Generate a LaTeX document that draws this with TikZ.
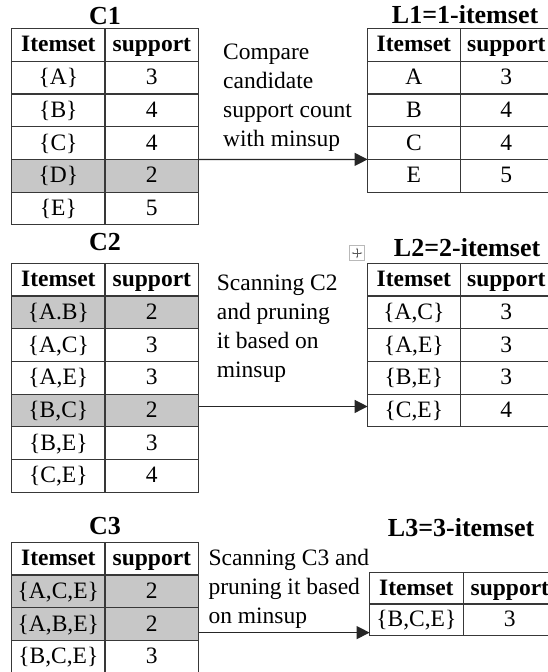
\documentclass[tikz,border=0pt]{standalone}
\usepackage{fontspec}
\setmainfont{Liberation Serif}
\usetikzlibrary{matrix, arrows.meta, positioning}
\newcommand{\fsz}{\fontsize{23.5}{29}\selectfont}
\definecolor{pruned}{gray}{0.78}
\definecolor{rule}{gray}{0.22}

\begin{document}
\begin{tikzpicture}[x=1pt, y=-1pt,
  tablestyle/.style={matrix of nodes, anchor=north west, inner sep=0pt, outer sep=0pt, column sep=-1.2pt, row sep=-1.2pt,
    nodes={draw=rule, line width=1.2pt, inner sep=0pt, anchor=center, text height=14pt, text depth=0pt,
      minimum width=93.5pt, minimum height=32.7pt, font=\fsz},
    row 1/.style={nodes={font=\fsz\bfseries}}},
  ltable/.style={tablestyle, nodes={minimum width=92.5pt}},
  cut/.style={fill=pruned},
  titlestyle/.style={font=\fontsize{26}{30}\selectfont\bfseries, inner sep=0pt},
  note/.style={font=\fsz, align=left, inner sep=0pt, anchor=north west},
  flow/.style={draw=black!85, line width=1.3pt, -{Triangle[length=13pt, width=13pt]}},
  handle/.style={draw=gray!55, line width=0.6pt, minimum size=15pt, inner sep=0pt}]
  \useasboundingbox (0,0) rectangle (548,672);

  % C1 -> L1
  \matrix[tablestyle] (c1) at (11,28) {
    Itemset & support \\
    \{A\} & 3 \\
    \{B\} & 4 \\
    \{C\} & 4 \\
    |[cut]| \{D\} & |[cut]| 2 \\
    \{E\} & 5 \\
  };
  \node[titlestyle, above=3pt of c1] (c1title) {C1};

  \matrix[ltable] (l1) at (367,28) {
    Itemset & support \\
    A & 3 \\
    B & 4 \\
    C & 4 \\
    E & 5 \\
  };
  \node[titlestyle, above=4.5pt of l1, xshift=5pt] (l1title) {L1=1-itemset};

  \node[note] (compare) at (223,43.9) {Compare\\candidate\\support count\\with minsup};

  % C2 -> L2
  \matrix[tablestyle] (c2) at (11,262.7) {
    Itemset & support \\
    |[cut]| \{A.B\} & |[cut]| 2 \\
    \{A,C\} & 3 \\
    \{A,E\} & 3 \\
    |[cut]| \{B,C\} & |[cut]| 2 \\
    \{B,E\} & 3 \\
    \{C,E\} & 4 \\
  };
  \node[titlestyle, above=12pt of c2] (c2title) {C2};

  \matrix[ltable] (l2) at (367,262.7) {
    Itemset & support \\
    \{A,C\} & 3 \\
    \{A,E\} & 3 \\
    \{B,E\} & 3 \\
    \{C,E\} & 4 \\
  };
  \node[titlestyle, above=5.7pt of l2, xshift=7pt] (l2title) {L2=2-itemset};
  \node[handle] (move) at (357,253) {};
  \draw[gray!70!black, line width=0.5pt, {Stealth[length=2pt]}-{Stealth[length=2pt]}] ([xshift=2.5pt]move.west) -- ([xshift=-2.5pt]move.east);
  \draw[gray!70!black, line width=0.5pt, {Stealth[length=2pt]}-{Stealth[length=2pt]}] ([yshift=-2.5pt]move.north) -- ([yshift=2.5pt]move.south);

  \node[note] (scan2) at (216.7,274.8) {Scanning C2\\and pruning\\it based on\\minsup};

  % C3 -> L3
  \matrix[tablestyle] (c3) at (11,541.7) {
    Itemset & support \\
    |[cut]| \{A,C,E\} & |[cut]| 2 \\
    |[cut]| \{A,B,E\} & |[cut]| 2 \\
    \{B,C,E\} & 3 \\
  };
  \node[titlestyle, above=6.7pt of c3] (c3title) {C3};

  \matrix[tablestyle, nodes={minimum height=31.65pt}] (l3) at (369,571.7) {
    Itemset & support \\
    \{B,C,E\} & 3 \\
  };
  \node[titlestyle, above=34.7pt of l3, xshift=-2pt] (l3title) {L3=3-itemset};

  \node[note] (scan3) at (208.3,548.5) {Scanning C3 and\\pruning it based\\on minsup};

  % arrows
  \draw[flow] (c1-5-2.north east) -- (l1-5-1.north west);
  \draw[flow] ([yshift=4pt]c2-5-2.east) -- ([yshift=4pt]l2-5-1.west);
  \coordinate (l3in) at ([yshift=3pt]l3-2-1.south west);
  \draw[flow] (c3-3-2.east |- l3in) -- (l3in);

\end{tikzpicture}
\end{document}
